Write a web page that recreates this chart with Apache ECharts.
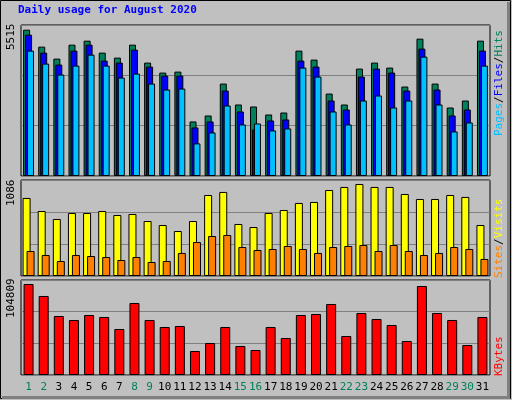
<!DOCTYPE html>
<html>
<head>
<meta charset="UTF-8">
<script src="https://cdn.jsdelivr.net/npm/echarts@6/dist/echarts.min.js"></script>
<style>
  * { margin: 0; padding: 0 }
  #main { width: 512px; height: 400px; }
</style>
</head>
<body>
<div id="main"></div>
<script>
var days = [];
for (var i = 1; i <= 31; i++) days.push(String(i));
var weekend = ['1','2','8','9','15','16','22','23','29','30'];

var hits = [5513,4874,4423,4949,5100,4649,4461,4949,4273,3897,3934,2055,2280,3483,2694,2619,2318,2393,4724,4386,3107,2694,4047,4273,4085,3371,5175,3483,2581,2844,5100];
var files = [5325,4649,4198,4724,4949,4348,4273,4761,4122,3784,3784,1829,2055,3220,2431,1754,2093,2130,4348,4122,2844,2506,3746,4047,3897,3220,4799,3258,2280,2506,4724];
var pages = [4724,4235,3822,4160,4573,4160,3709,3859,3483,3258,3295,1228,1641,2656,1942,1980,1717,1792,4085,3746,2431,1942,2844,3032,2581,2844,4498,2694,1679,2017,4160];
var sites = [921,767,673,744,744,767,720,732,649,602,531,649,956,992,614,578,744,779,862,874,1015,1051,1086,1051,1051,968,909,909,956,933,602];
var visits = [295,248,177,248,236,224,189,224,165,177,272,401,472,484,342,307,319,354,319,272,342,354,366,295,366,295,248,272,342,319,201];
var kbytes = [104809,90984,67950,63344,69102,66799,52978,82922,63344,55282,56433,27641,36854,55282,33399,28793,55282,42613,69102,70254,81771,44916,71405,64495,57585,39158,102501,71405,63344,34551,66799];

var font = 'DejaVu Sans Mono';
var grids = [
  { left: 21, right: 22, top: 25, height: 151 },
  { left: 21, right: 22, top: 180, height: 96 },
  { left: 21, right: 22, top: 280, height: 95 }
];
var maxes = [5690, 1133, 109400];

function yAx(i) {
  return { gridIndex: i, min: 0, max: maxes[i], interval: maxes[i] / 3,
    axisLabel: { show: false }, axisLine: { show: false }, axisTick: { show: false },
    splitLine: { lineStyle: { color: '#808080', width: 1 } } };
}
function xAx(i) {
  return { gridIndex: i, type: 'category', data: days,
    axisLine: { show: false }, axisTick: { show: false },
    axisLabel: i < 2 ? { show: false } : {
      interval: 0, fontFamily: font, fontSize: 11, margin: 7,
      formatter: function (v) { return weekend.indexOf(v) >= 0 ? '{w|' + v + '}' : '{d|' + v + '}'; },
      rich: { w: { color: '#00805c', fontFamily: font, fontSize: 11 }, d: { color: '#000', fontFamily: font, fontSize: 11 } }
    } };
}
function bar(name, data, i, color, w, gap) {
  return { name: name, type: 'bar', data: data, xAxisIndex: i, yAxisIndex: i,
    barWidth: w, barGap: gap, animation: false,
    itemStyle: { color: color, borderColor: '#000', borderWidth: 1 } };
}

var chart = echarts.init(document.getElementById('main'));
chart.setOption({
  backgroundColor: '#c0c0c0',
  grid: grids.map(function (g) { return Object.assign({ show: true, backgroundColor: '#c0c0c0', borderColor: '#000', borderWidth: 1 }, g); }),
  xAxis: [xAx(0), xAx(1), xAx(2)],
  yAxis: [yAx(0), yAx(1), yAx(2)],
  series: [
    bar('Hits', hits, 0, '#00805c', 7, '-72%'),
    bar('Files', files, 0, '#0000ff', 7, '-72%'),
    bar('Pages', pages, 0, '#00c0ff', 7, '-72%'),
    bar('Sites', sites, 1, '#ffff00', 8, '-50%'),
    bar('Visits', visits, 1, '#ff8000', 8, '-50%'),
    bar('KBytes', kbytes, 2, '#ff0000', 10, '0%')
  ],
  graphic: [
    { type: 'rect', shape: { x: 0.5, y: 0.5, width: 510, height: 398 }, style: { fill: 'none', stroke: '#000', lineWidth: 1 } },
    { type: 'rect', shape: { x: 507, y: 2, width: 3, height: 396 }, style: { fill: '#808080' } },
    { type: 'rect', shape: { x: 2, y: 396, width: 508, height: 3 }, style: { fill: '#808080' } },
    { type: 'text', left: 18, top: 5, style: { text: 'Daily usage for August 2020', fill: '#0000ff', font: 'bold 11px ' + font } },
    { type: 'text', x: 6, y: 50, rotation: Math.PI / 2, style: { text: '5515', fill: '#000', font: '11px ' + font } },
    { type: 'text', x: 6, y: 206, rotation: Math.PI / 2, style: { text: '1086', fill: '#000', font: '11px ' + font } },
    { type: 'text', x: 6, y: 318, rotation: Math.PI / 2, style: { text: '104809', fill: '#000', font: '11px ' + font } },
    { type: 'text', x: 494, y: 136, rotation: Math.PI / 2,
      style: { text: '{p|Pages}{s|/}{f|Files}{s|/}{h|Hits}', font: '11px ' + font,
        rich: { p: { fill: '#00c0ff', font: '11px ' + font }, f: { fill: '#0000ff', font: '11px ' + font },
                h: { fill: '#00805c', font: '11px ' + font }, s: { fill: '#000', font: '11px ' + font } } } },
    { type: 'text', x: 494, y: 278, rotation: Math.PI / 2,
      style: { text: '{v|Sites}{s|/}{y|Visits}', font: '11px ' + font,
        rich: { v: { fill: '#ff8000', font: '11px ' + font }, y: { fill: '#ffff00', font: '11px ' + font },
                s: { fill: '#000', font: '11px ' + font } } } },
    { type: 'text', x: 494, y: 376, rotation: Math.PI / 2, style: { text: 'KBytes', fill: '#ff0000', font: '11px ' + font } }
  ]
});
</script>
</body>
</html>
